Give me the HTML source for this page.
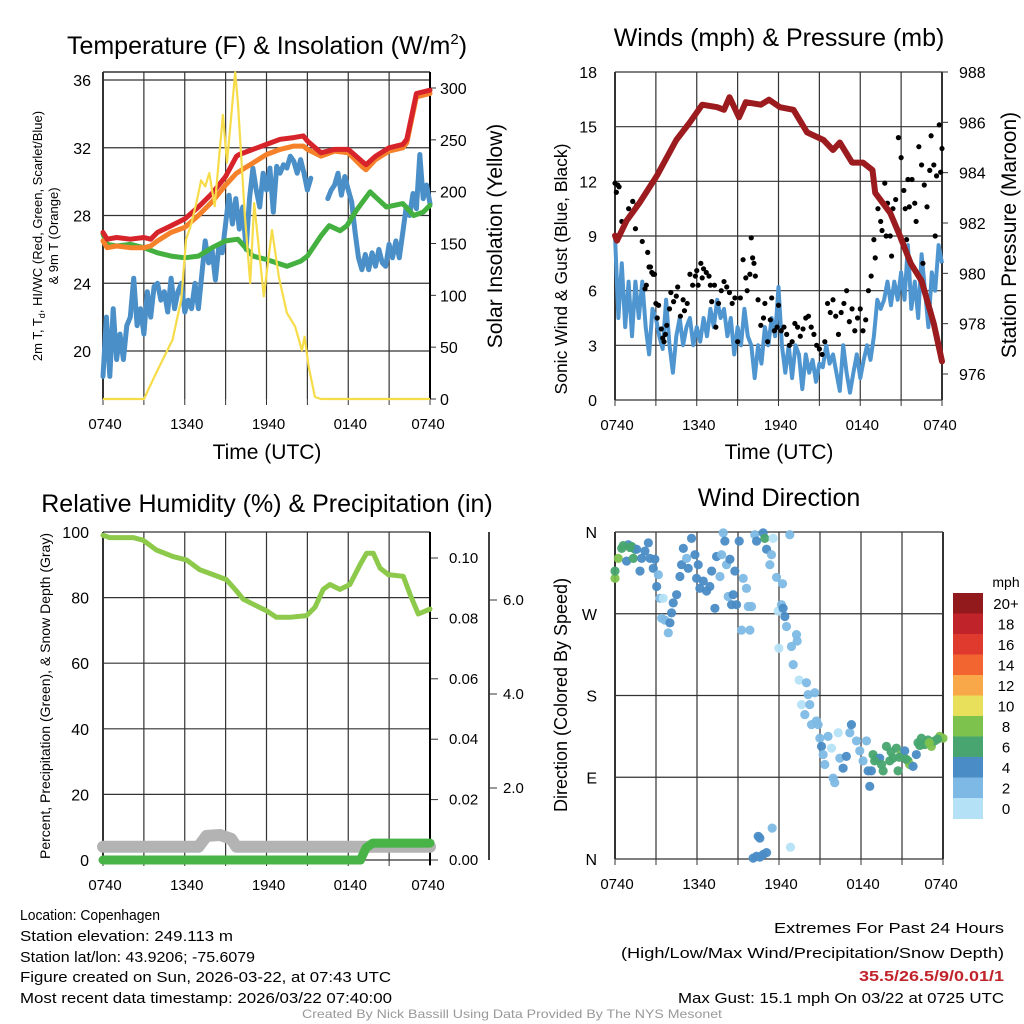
<!DOCTYPE html>
<html><head><meta charset="utf-8"><title>Weather station 24-hour meteogram – Copenhagen</title>
<style>
html,body{margin:0;padding:0;background:#fff;}
svg{display:block;font-family:"Liberation Sans",Arial,sans-serif;}
</style></head>
<body>
<svg id="fig" width="1024" height="1024" viewBox="0 0 1024 1024" xmlns="http://www.w3.org/2000/svg">
<rect width="1024" height="1024" fill="#fff"/>
<text x="267" y="54" font-size="25" text-anchor="middle">Temperature (F) &amp; Insolation (W/m<tspan dy="-10" font-size="15">2</tspan><tspan dy="10">)</tspan></text>
<text x="779" y="46" font-size="25" text-anchor="middle">Winds (mph) &amp; Pressure (mb)</text>
<text x="267" y="512" font-size="25" text-anchor="middle">Relative Humidity (%) &amp; Precipitation (in)</text>
<text x="779" y="506" font-size="25" text-anchor="middle">Wind Direction</text>
<g id="g1"></g>
<g id="g2"></g>
<g id="g3"></g>
<g id="g4"></g>
<g font-size="15">
<text x="20" y="920" textLength="140" lengthAdjust="spacingAndGlyphs">Location: Copenhagen</text>
<text x="20" y="941" textLength="213" lengthAdjust="spacingAndGlyphs">Station elevation: 249.113 m</text>
<text x="20" y="962" textLength="235" lengthAdjust="spacingAndGlyphs">Station lat/lon: 43.9206; -75.6079</text>
<text x="20" y="982" textLength="371" lengthAdjust="spacingAndGlyphs">Figure created on Sun, 2026-03-22, at 07:43 UTC</text>
<text x="20" y="1003" textLength="372" lengthAdjust="spacingAndGlyphs">Most recent data timestamp: 2026/03/22 07:40:00</text>
</g>
<g font-size="15">
<text x="774" y="933" textLength="230" lengthAdjust="spacingAndGlyphs">Extremes For Past 24 Hours</text>
<text x="621" y="958" textLength="383" lengthAdjust="spacingAndGlyphs">(High/Low/Max Wind/Precipitation/Snow Depth)</text>
<text x="859" y="981" textLength="145" lengthAdjust="spacingAndGlyphs" fill="#c1232a" font-weight="bold">35.5/26.5/9/0.01/1</text>
<text x="678" y="1003" textLength="326" lengthAdjust="spacingAndGlyphs">Max Gust: 15.1 mph On 03/22 at 0725 UTC</text>
</g>
<text x="302" y="1018" font-size="12" fill="#999" textLength="420" lengthAdjust="spacingAndGlyphs">Created By Nick Bassill Using Data Provided By The NYS Mesonet</text>
</svg>
<script>
// ---------- DATA ----------
const timeTicks = ["0740","1340","1940","0140","0740"];
// Temperature panel
const tHours = [0,0.3,1,2,3,3.5,4,5,6,7,8,9,9.8,10,11,12,13,14,14.7,15,16,17,18,19,19.3,20,21,22,22.3,23,24];
const tempRed = [27.0,26.6,26.7,26.6,26.7,26.6,27.0,27.4,27.8,28.5,29.3,30.3,31.5,31.6,31.9,32.2,32.5,32.6,32.7,32.4,31.7,31.9,31.9,31.2,31.0,31.5,32.0,32.2,32.5,35.2,35.4];
const temp9m = [26.5,26.1,26.2,26.1,26.1,26.2,26.5,27.0,27.3,28.0,28.8,29.8,30.5,30.6,31.1,31.6,31.9,32.1,32.1,31.9,31.5,31.8,31.7,30.9,30.7,31.3,31.8,32.0,32.3,35.0,35.2];
const gHours = [0,0.3,1,2,3,4,5,6,7,8,9,9.9,11,12,13.5,14.5,15,16,16.6,17.4,17.9,18.6,19.6,20,20.8,22,22.8,23.5,24];
const dewGreen = [26.9,26.3,26.2,26.3,26.1,25.8,25.6,25.5,25.6,26.1,26.5,26.6,25.6,25.4,25.0,25.3,25.6,26.8,27.4,27.1,27.4,28.3,29.4,29.1,28.5,28.7,28.0,28.2,28.6];
const bHours = [0,0.25,0.5,0.75,1,1.25,1.5,1.75,2,2.25,2.5,2.75,3,3.25,3.5,3.75,4,4.25,4.5,4.75,5,5.25,5.5,5.75,6,6.25,6.5,6.75,7,7.25,7.5,7.75,8,8.25,8.5,8.75,9,9.25,9.5,9.75,10,10.25,10.5,10.75,11,11.25,11.5,11.75,12,12.25,12.5,12.75,13,13.25,13.5,13.75,14,14.25,14.5,14.75,15,15.25,15.5,16.5,16.75,17,17.25,17.5,17.75,18,18.25,18.5,18.75,19,19.25,19.5,19.75,20,20.25,20.5,20.75,21,21.25,21.5,21.75,22,22.25,22.5,22.75,23,23.25,23.5,23.75,24];
const dewBlue = [18.5,22,18.5,22.5,19.5,21,19.5,21.5,22,24.3,21.5,22.5,21,23.5,22,23.8,24,23,23.5,22.3,24.3,22.5,23.5,24,22.3,23,22.5,24,22.5,24.5,26.5,25.2,26,24.2,26.2,25.8,27.5,29.2,27.5,29,27.2,28.5,26,29,30.8,29.5,28.5,30.5,29.5,30.8,28.2,30.9,30.5,31,30.8,31.5,31.2,30.5,31.3,30.5,29.5,30.2,null,29,29.5,29.8,30.5,29.2,30.3,29.5,28.8,27,25.5,24.8,25.7,24.8,25.8,25,26,25.2,25,26.3,25.5,26.5,25.5,27,28.5,28,29.3,28.4,31.6,29,29.8,28.7];
const sHours = [0,3.0,3.9,5.1,5.75,6.1,6.5,6.9,7.2,7.5,7.8,8.2,8.8,9.1,9.7,9.9,10.4,10.8,11.1,11.8,12.4,12.9,13.5,14.1,14.6,14.8,15.1,15.55,16,24];
const insolation = [0,0,25,57,96,154,170,192,211,205,218,186,274,228,315,286,179,112,189,99,163,118,83,70,47,60,31,2,0,0];
const tempTicks = [20,24,28,32,36];
const solarTicks = [0,50,100,150,200,250,300];
// Winds panel
const wHours = [0,0.25,0.5,0.75,1,1.25,1.5,1.75,2,2.25,2.5,2.75,3,3.25,3.5,3.75,4,4.25,4.5,4.75,5,5.25,5.5,5.75,6,6.25,6.5,6.75,7,7.25,7.5,7.75,8,8.25,8.5,8.75,9,9.25,9.5,9.75,10,10.25,10.5,10.75,11,11.25,11.5,11.75,12,12.25,12.5,12.75,13,13.25,13.5,13.75,14,14.25,14.5,14.75,15,15.25,15.5,15.75,16,16.25,16.5,16.75,17,17.25,17.5,17.75,18,18.25,18.5,18.75,19,19.25,19.5,19.75,20,20.25,20.5,20.75,21,21.25,21.5,21.75,22,22.25,22.5,22.75,23,23.25,23.5,23.75,24];
const sonicWind = [9,4.5,7.5,4,6.5,3.5,6.5,4.5,6.5,4,2.5,5,4.5,3.5,2.8,5.5,3,1.5,3.5,4.5,3,4,4.5,3,4,3.2,4.5,3.5,5,4,5.5,4.5,5,3.5,4.5,2.5,4,3,5,3.5,3,1.2,3,2,4,3,4.5,3.5,6.2,3,1.5,3,1.2,3,2.5,0.6,2.5,1.5,2.2,1,2,1.8,3,2,2.5,1.5,0.5,3,1.5,0.4,1.5,2.5,1.2,2.2,3,2.2,3.5,5.5,5,5.5,6.5,5.2,6.5,5.5,7,5.5,8.5,5,6.5,4.5,8,6,4,7,6,8.5,7.5];
const gustHours = [0,0.1,0.2,0.3,0.5,1,1.3,1.5,1.6,2,2.2,2.3,2.4,2.5,2.6,2.7,2.8,2.9,3,3.1,3.2,3.4,3.5,3.6,3.7,3.8,4,4.1,4.3,4.5,4.6,4.8,5,5.1,5.3,5.5,5.7,5.9,6,6.1,6.3,6.4,6.5,6.7,6.9,7,7.1,7.3,7.4,7.6,7.8,8,8.2,8.4,8.6,8.8,9,9.2,9.4,9.6,9.7,9.9,10,10.1,10.2,10.3,10.5,10.7,10.9,11,11.2,11.4,11.5,11.7,11.9,12,12.2,12.4,12.6,12.8,13,13.2,13.4,13.6,13.8,14,14.2,14.4,14.6,14.8,15,15.2,15.4,15.6,15.8,16,16.2,16.4,16.6,16.8,17,17.2,17.4,17.6,17.8,18,18.2,18.4,18.6,18.8,19,19.1,19.3,19.5,19.6,19.8,19.9,20,20.2,20.3,20.4,20.6,20.8,21,21.2,21.3,21.4,21.5,21.6,21.8,22,22.1,22.3,22.5,22.6,22.7,22.9,23.1,23.2,23.4,23.5,23.6,23.8,23.9,24];
const gustVals = [11.9,11.4,11.8,11.7,9.8,10.5,10.9,9.4,10.7,8.7,6.1,6.3,8.1,7.3,7.3,7.0,6.9,6.9,5.3,4.5,5.2,3.9,3.4,3.2,3.6,4.1,5.0,5.9,5.4,5.7,6.2,4.6,5.5,4.9,5.3,6.9,6.3,6.8,7.1,6.3,7.5,6.7,7.2,7.0,6.8,6.3,5.4,6.3,4.0,5.3,6.0,6.5,6.2,5.9,5.3,5.6,3.2,5.6,7.7,6.7,6.0,6.9,8.9,7.8,7.5,6.8,5.5,4.1,4.5,5.3,3.2,4.4,5.6,3.8,4.0,5.2,3.8,4.0,3.6,3.0,3.2,4.2,4.0,3.5,3.9,4.5,4.6,4.0,3.6,3.0,2.8,2.5,3.2,5.3,4.8,5.5,4.6,3.6,4.8,5.3,6.0,4.3,5.0,3.8,4.5,5.0,3.8,4.4,6.0,6.8,8.8,7.8,10.5,9.8,9.3,11.9,9.0,10.8,9.0,7.9,10.5,11.0,14.4,13.3,11.5,10.5,8.8,12.1,10.6,12.1,10.8,9.8,13.9,12.9,7.5,11.8,10.6,12.6,14.5,12.9,9.0,12.3,15.1,12.5,13.8];
const pHours = [0,0.15,0.86,1.8,3.1,4.5,5.5,6.4,7.5,8.0,8.4,9.1,9.6,10.7,11.3,12.1,13.1,14.1,15.3,16.0,16.5,17.4,18.2,18.9,19.1,20.2,20.9,21.7,22.5,23.4,24];
const pressure = [981.5,981.3,982.1,982.8,983.9,985.3,986.0,986.7,986.6,986.5,987.0,986.2,986.8,986.7,986.9,986.6,986.5,985.6,985.3,984.9,985.2,984.4,984.4,984.1,983.2,982.4,981.5,980.4,979.7,978.0,976.5];
const windTicks = [0,3,6,9,12,15,18];
const pressTicks = [976,978,980,982,984,986,988];
// Humidity panel
const rhHours = [0,0.49,2.2,2.94,3.92,5.14,6.12,7.1,8.08,9.06,9.8,10.29,11.02,12.0,12.73,13.71,14.94,15.55,16.16,16.65,17.39,18.12,18.86,19.35,19.84,20.33,20.94,22.04,22.53,23.14,24];
const rh = [99,98.3,98.3,97.5,94.5,92.5,91.5,88.5,87,85.5,82,79.5,78,76,74,74,74.5,77,82.5,84,82.5,84,90,93.5,93.5,89,87,86.5,81,75,76.5];
const precipHours = [0,18.9,19.3,19.8,24];
const precip = [0,0,0.004,0.0056,0.0056];
const snowHours = [0,7.0,7.6,8.6,9.4,9.8,24];
const snowDepth = [0.75,0.75,0.98,1.0,0.92,0.75,0.75];
const rhTicks = [0,20,40,60,80,100];
const precipTicks = ["0.00","0.02","0.04","0.06","0.08","0.10"];
const snowTicks = ["2.0","4.0","6.0"];
// Wind direction panel
const dirHours = [0,0,0.24,0.49,0.85,0.97,1.22,1.34,1.46,1.58,1.83,1.95,2.19,2.44,2.56,2.8,2.92,3.05,3.17,3.29,3.53,3.41,3.65,3.9,4.02,4.14,4.26,4.51,4.75,4.87,5.0,5.24,5.36,5.6,5.85,5.97,6.09,6.21,6.46,6.7,6.94,7.07,7.31,7.43,7.68,7.8,7.92,8.04,8.16,8.28,8.41,8.53,8.65,8.77,8.89,9.09,9.26,9.38,9.62,9.75,9.87,9.99,10.23,10.36,10.84,10.96,11.09,11.45,11.33,11.57,11.82,11.94,12.18,12.3,12.43,12.55,12.79,12.26,11.99,12.91,13.04,13.28,13.33,13.47,13.65,13.89,14.01,14.13,14.25,14.38,14.62,14.74,14.86,14.99,15.11,15.23,15.35,15.59,15.84,15.96,16.08,16.33,16.45,16.69,16.93,17.18,17.3,17.67,17.91,18.15,18.4,18.52,18.64,18.76,18.88,19.13,19.37,19.62,19.86,20.1,20.35,20.59,20.71,20.96,21.2,21.44,21.56,21.81,22.05,22.17,22.42,22.66,22.9,23.15,23.39,23.76,24.0,10.11,10.36,10.6,10.84,11.09,10.48,10.6,11.5,12.84,0.6,1.1,19.0,19.5,20.2,20.8,21.3,22.3,23.0,23.6];
const dirDegs = [309,317,331,342,328,346,344,331,341,341,317,331,339,348,331,320,330,300,313,287,287,265,263,249,260,271,282,291,311,324,342,331,320,353,335,309,324,298,306,295,300,317,276,333,311,335,359,350,324,289,330,280,291,317,280,350,252,309,298,278,252,278,357,350,359,353,341,335,324,353,310,273,280,276,267,256,357,303,232,234,214,247,240,197,170,159,194,181,170,148,183,152,148,133,124,115,104,135,122,89,84,139,111,100,113,139,148,130,119,108,130,97,80,97,115,111,111,97,124,108,111,122,97,115,119,108,104,102,115,128,133,126,131,124,130,135,133,1,3,2,5,7,25,23,34,13,345,343,108,104,118,112,110,125,128,132];
const dirSpeeds = [9,7,9,7,5,5,7,7,7,5,5,5,5,5,5,5,5,5,3,3,1,3,3,3,5,5,5,5,5,5,5,3,5,5,5,5,5,5,5,5,5,5,5,5,3,3,3,5,3,3,5,5,5,5,5,5,3,3,3,3,3,3,3,5,5,7,5,3,3,1,3,1,3,5,5,3,3,3,1,3,3,3,3,1,1,3,3,3,3,3,3,3,3,3,5,3,3,3,1,3,3,1,3,5,5,3,5,3,3,3,3,5,5,5,7,7,5,7,7,7,7,7,7,9,5,7,9,5,5,7,7,7,7,9,7,9,9,5,5,5,5,5,5,5,3,1,7,7,7,7,7,7,7,7,9,7,7,7];
const speedBins = ["0","2","4","6","8","10","12","14","16","18","20+"];
const dirTicks = ["N","E","S","W","N"];

// ---------- HELPERS ----------
const NS = "http://www.w3.org/2000/svg";
function mk(tag, attrs, parent){
  const e = document.createElementNS(NS, tag);
  for (const k in attrs) e.setAttribute(k, attrs[k]);
  parent.appendChild(e);
  return e;
}
function lin(d0,d1,r0,r1){ return v => r0 + (v-d0)*(r1-r0)/(d1-d0); }
function pathFrom(xs, ys, fx, fy){
  let d = "", pen = false;
  for (let i=0;i<xs.length;i++){
    if (ys[i]===null || ys[i]===undefined){ pen=false; continue; }
    d += (pen?"L":"M") + fx(xs[i]).toFixed(1) + "," + fy(ys[i]).toFixed(1);
    pen = true;
  }
  return d;
}
function frame(g, L, T, R, B, xScale){
  for (let h=0; h<=24; h+=3){
    const x = xScale(h);
    const gl = mk("line",{x1:x,x2:x,y1:T,y2:B,stroke:"#333","stroke-width":(h===0||h===24)?2:1.2},g);
    
    
    const tk = mk("line",{x1:x,x2:x,y1:B,y2:B+6,stroke:"#333","stroke-width":1},g);
    
    
  }
  timeTicks.forEach((lab,i)=>{
    const t = mk("text",{x:xScale(i*6)+(i===4?-2:2),y:B+30,"font-size":15,"text-anchor":"middle"},g);
    t.textContent = lab;
    
    
  });
}
function hgrid(g, L, R, y, w){
  const l = mk("line",{x1:L,x2:R,y1:y,y2:y,stroke:"#333","stroke-width":w||1.2},g);
  
  
}
function label(g, x, y, txt, anchor, size, name){
  const t = mk("text",{x:x,y:y,"font-size":size||15,"text-anchor":anchor||"start"},g);
  t.textContent = txt;
  
  
  return t;
}
function vlabel(g, x, y, txt, size, name){
  const t = mk("text",{x:0,y:0,"font-size":size,"text-anchor":"middle",transform:`translate(${x},${y}) rotate(-90)`},g);
  t.textContent = txt;
  
  
  return t;
}

// ---------- PANEL 1: TEMPERATURE ----------
(function(){
  const g = document.getElementById("g1");
  const L=103,R=430,T=72,B=399;
  const x = lin(0,24,L,R), y = lin(36,20,80,351), ys = lin(0,300,399,88);
  hgrid(g,L,R,T,1.5);
  tempTicks.forEach(v=>{ hgrid(g,L,R,y(v)); label(g,L-12,y(v)+6,String(v),"end",16,"temp-tick-label"); });
  solarTicks.forEach(v=>{
    const tk=mk("line",{x1:R,x2:R+6,y1:ys(v),y2:ys(v),stroke:"#333"},g);
    
    
    label(g,R+10,ys(v)+6,String(v),"start",16,"solar-tick-label");
  });
  frame(g,L,T,R,B,x);
  const ax = mk("line",{x1:R,x2:R,y1:T,y2:B,stroke:"#000","stroke-width":2},g);
  
  
  const series = [
    [bHours,dewBlue,"#4a8fc8",5,"dewpoint-line"],
    [gHours,dewGreen,"#43b03f",5,"heat-index-line"],
    [tHours,temp9m,"#f5822a",5,"temp-9m-line"],
    [tHours,tempRed,"#d7232a",5,"temp-2m-line"]
  ];
  series.forEach(s=>{
    const p = mk("path",{d:pathFrom(s[0],s[1],x,y),fill:"none",stroke:s[2],"stroke-width":s[3],"stroke-linejoin":"round","stroke-linecap":"round"},g);
    
    
  });
  const sp = mk("path",{d:pathFrom(sHours,insolation,x,ys),fill:"none",stroke:"#f7dc4a","stroke-width":2.2,"stroke-linejoin":"round"},g);
  
  
  label(g,267,459,"Time (UTC)","middle",21,"x-axis-title");
  vlabel(g,42,236,"2m T, T",13,"left-axis-title").innerHTML = '2m T, T<tspan font-size="9" dy="3">d</tspan><tspan dy="-3">, HI/WC (Red, Green, Scarlet/Blue)</tspan>';
  vlabel(g,58,236,"& 9m T (Orange)",13,"left-axis-title-line2");
  vlabel(g,502,236,"Solar Insolation (Yellow)",21,"right-axis-title");
})();

// ---------- PANEL 2: WINDS ----------
(function(){
  const g = document.getElementById("g2");
  const L=615,R=942,T=72,B=400;
  const x = lin(0,24,L,R), y = lin(0,18,400,72), yp = lin(976,988,374,72);
  windTicks.forEach(v=>{ hgrid(g,L,R,y(v)); label(g,L-18,y(v)+6,String(v),"end",16,"wind-tick-label"); });
  pressTicks.forEach(v=>{
    const tk=mk("line",{x1:R,x2:R+6,y1:yp(v),y2:yp(v),stroke:"#333"},g);
    
    
    label(g,R+17,yp(v)+6,String(v),"start",16,"pressure-tick-label");
  });
  frame(g,L,T,R,B,x);
  const p1 = mk("path",{d:pathFrom(wHours,sonicWind,x,y),fill:"none",stroke:"#4f96d0","stroke-width":4,"stroke-linejoin":"round"},g);
  
  
  gustHours.forEach((h,i)=>{
    const c = mk("circle",{cx:x(h),cy:y(gustVals[i]),r:2.6,fill:"#000"},g);
    
    
  });
  const p2 = mk("path",{d:pathFrom(pHours,pressure,x,yp),fill:"none",stroke:"#9b1b1e","stroke-width":6,"stroke-linejoin":"round","stroke-linecap":"round"},g);
  
  
  label(g,779,459,"Time (UTC)","middle",21,"x-axis-title");
  vlabel(g,567,269,"Sonic Wind & Gust (Blue, Black)",17.5,"left-axis-title");
  vlabel(g,1016,235,"Station Pressure (Maroon)",21,"right-axis-title");
})();

// ---------- PANEL 3: HUMIDITY ----------
(function(){
  const g = document.getElementById("g3");
  const L=103,R=430,T=532,B=860;
  const x = lin(0,24,L,R), y = lin(0,100,860,532), yp = lin(0,0.1,860,558), ysn = lin(0,2,882,788);
  rhTicks.forEach(v=>{ hgrid(g,L,R,y(v)); label(g,L-14,y(v)+6,String(v),"end",16,"rh-tick-label"); });
  precipTicks.forEach(v=>{
    const yy = yp(parseFloat(v));
    const tk=mk("line",{x1:R,x2:R+8,y1:yy,y2:yy,stroke:"#333"},g);
    
    
    label(g,R+19,yy+5,v,"start",15,"precip-tick-label");
  });
  frame(g,L,T,R,B,x);
  const ax = mk("line",{x1:R,x2:R,y1:T,y2:B+5,stroke:"#000","stroke-width":2},g);
  
  
  const ax2 = mk("line",{x1:489,x2:489,y1:532,y2:860,stroke:"#000","stroke-width":1.5},g);
  
  
  snowTicks.forEach(v=>{
    const yy = ysn(parseFloat(v));
    const tk=mk("line",{x1:489,x2:497,y1:yy,y2:yy,stroke:"#333"},g);
    
    
    label(g,503,yy+5,v,"start",15,"snow-tick-label");
  });
  const sn = mk("path",{d:pathFrom(snowHours,snowDepth,x,ysn),fill:"none",stroke:"#b3b3b3","stroke-width":12,"stroke-linejoin":"round","stroke-linecap":"round"},g);
  
  
  const pr = mk("path",{d:pathFrom(precipHours,precip,x,yp),fill:"none",stroke:"#48b347","stroke-width":9,"stroke-linejoin":"round","stroke-linecap":"round"},g);
  
  
  const rl = mk("path",{d:pathFrom(rhHours,rh,x,y),fill:"none",stroke:"#8dc94a","stroke-width":5,"stroke-linejoin":"round","stroke-linecap":"round"},g);
  
  
  vlabel(g,50,696,"Percent, Precipitation (Green), & Snow Depth (Gray)",14,"left-axis-title");
})();

// ---------- PANEL 4: WIND DIRECTION ----------
(function(){
  const g = document.getElementById("g4");
  const L=615,R=943,T=532,B=859;
  const x = lin(0,24,L,R), y = lin(0,360,859,532);
  const colors = ["#b5e1f6","#7db9e4","#4a8cc6","#48a56f","#7dc24c","#e8df5a","#f8a848","#f26430","#e03a2f","#c1232a","#921a1d"];
  dirTicks.forEach((lab,i)=>{
    hgrid(g,L,R,y(i*90));
    label(g,L-18,y(i*90)+6,lab,"end",16,"direction-tick-label");
  });
  frame(g,L,T,R,B,x);
  dirHours.forEach((h,i)=>{
    const bin = Math.min(10, Math.floor(dirSpeeds[i]/2));
    const c = mk("circle",{cx:x(h),cy:y(dirDegs[i]),r:4.6,fill:colors[bin],"fill-opacity":0.95},g);
    
    
  });
  vlabel(g,567,695,"Direction (Colored By Speed)",18,"left-axis-title");
  const cb = mk("g",{},g);
  
  
  label(cb,1006,587,"mph","middle",14,"colorbar-title");
  const top=593, hh=20.5;
  speedBins.forEach((lab,i)=>{
    const idx = 10-i;
    const r = mk("rect",{x:953,y:top+i*hh,width:30,height:hh+0.5,fill:colors[idx]},cb);
    
    
    label(cb,1006,top+i*hh+16,speedBins[idx],"middle",15,"colorbar-label");
  });
})();
</script>
</body></html>
